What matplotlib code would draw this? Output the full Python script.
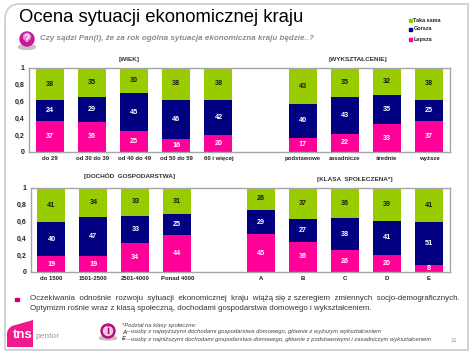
import numpy as np
import matplotlib
matplotlib.use("Agg")
import matplotlib.pyplot as plt
from matplotlib.patches import Circle, Rectangle, PathPatch, Ellipse
from matplotlib.path import Path

plt.rcParams["font.family"] = ["Liberation Sans", "DejaVu Sans"]

# ---- data ----
series = ["Lepsza", "Gorsza", "Taka sama"]
cats_top = ["do 29", "od 30 do 39", "od 40 do 49", "od 50 do 59", "60 i więcej", "",
            "podstawowe", "zasadnicze", "średnie", "wyższe"]
lepsza_top = [37, 36, 25, 16, 20, 0, 17, 22, 33, 37]
gorsza_top = [24, 29, 45, 46, 42, 0, 40, 43, 35, 25]
taka_top = [38, 35, 30, 38, 38, 0, 43, 35, 32, 38]

cats_bot = ["do 1500", "1501-2500", "2501-4000", "Ponad 4000", "", "A", "B", "C", "D", "E"]
lepsza_bot = [19, 19, 34, 44, 0, 45, 36, 26, 20, 8]
gorsza_bot = [40, 47, 33, 25, 0, 29, 27, 38, 41, 51]
taka_bot = [41, 34, 33, 31, 0, 26, 37, 36, 39, 41]

y_ticks = [0, 0.2, 0.4, 0.6, 0.8, 1]
y_labels = ["0", "0,2", "0,4", "0,6", "0,8", "1"]

PINK = "#ff0099"
NAVY = "#000080"
GREEN = "#99cc00"
W, H = 474, 355

fig = plt.figure(figsize=(W / 100, H / 100), dpi=100, facecolor="white")

# overlay in pixel coords for all the slide furniture
bg = fig.add_axes([0, 0, 1, 1], zorder=0)
bg.set_xlim(0, W)
bg.set_ylim(H, 0)
bg.axis("off")


def stacked(box, cats, a, b, c):
    x0, y0, x1, y1 = box
    ax = fig.add_axes([x0 / W, 1 - y1 / H, (x1 - x0) / W, (y1 - y0) / H], zorder=2)
    a, b, c = [np.array(v, dtype=float) for v in (a, b, c)]
    tot = a + b + c
    tot[tot == 0] = 1
    x = np.arange(len(cats))
    bottom = np.zeros(len(cats))
    for vals, col, tc in [(a, PINK, "white"), (b, NAVY, "white"), (c, GREEN, "#1a1a1a")]:
        frac = vals / tot
        ax.bar(x, frac, 0.667, bottom=bottom, color=col, edgecolor="none")
        for i, v in enumerate(vals):
            if v > 0:
                ax.text(i, bottom[i] + frac[i] / 2, f"{int(v)}", color=tc, fontsize=5.2,
                        fontweight="bold", ha="center", va="center")
        bottom += frac
    ax.set_xlim(-0.5, len(cats) - 0.5)
    ax.set_ylim(0, 1)
    ax.set_xticks(x)
    ax.set_xticklabels(cats, fontsize=4.3, fontweight="bold", color="#222222")
    ax.set_yticks(y_ticks)
    ax.set_yticklabels(y_labels, fontsize=5, fontweight="bold", color="#222222")
    ax.tick_params(length=0, pad=3)
    for s in ax.spines.values():
        s.set_color("#a6a6a6")
        s.set_linewidth(1.0)
    return ax


stacked((29, 68, 450, 152), cats_top, lepsza_top, gorsza_top, taka_top)
stacked((30.5, 188, 450, 272), cats_bot, lepsza_bot, gorsza_bot, taka_bot)

# slide frame with rounded top left corner
frame = Path([(5, 350), (5, 20), (5, 4), (20, 4), (468, 4), (468, 350), (5, 350)],
             [Path.MOVETO, Path.LINETO, Path.CURVE3, Path.CURVE3, Path.LINETO, Path.LINETO, Path.LINETO])
bg.add_patch(PathPatch(frame, facecolor="white", edgecolor="#cfcfcf", linewidth=1.3))

# title + question
bg.text(19, 17.5, "Ocena sytuacji ekonomicznej kraju", fontsize=13.3, color="black", va="center")
bg.add_patch(Ellipse((27, 47), 17, 5, color="#c9c0c9", zorder=2))
bg.add_patch(Circle((27, 39), 7, color="#c8189a", zorder=3))
bg.add_patch(Circle((27, 37), 3.5, color="#ee88cc", zorder=3))
bg.text(27, 39.5, "?", color="white", fontsize=7, fontweight="bold", ha="center", va="center", zorder=4)
bg.text(40, 38, "Czy sądzi Pan(i), że za rok ogólna sytuacja ekonomiczna kraju będzie..?",
        fontsize=5.75, style="italic", fontweight="bold", color="#8c8c8c", va="center")

# legend
for yy, name, col in [(20, series[2], GREEN), (29, series[1], NAVY), (39, series[0], PINK)]:
    bg.add_patch(Rectangle((409, yy - 1.5), 3, 3, color=col))
    bg.text(413.5, yy, name, fontsize=4.0, fontweight="bold", color="#222222", va="center")

# group headers
for xx, yy, txt in [(129, 59, "[WIEK]"), (358, 59, "[WYKSZTAŁCENIE]"),
                    (130, 176, "[DOCHÓD  GOSPODARSTWA]"), (355, 180, "[KLASA  SPOŁECZENA*]")]:
    bg.text(xx, yy, txt, fontsize=4.6, fontweight="bold", color="#333333", ha="center", va="center")

# comment
bg.add_patch(Rectangle((15.5, 297.5), 3.5, 3.5, color="#d6006f"))
bg.text(30, 299, "Oczekiwania  odnośnie  rozwoju  sytuacji  ekonomicznej  kraju  wiążą się z szeregiem  zmiennych  socjo-demograficznych.",
        fontsize=5.7, color="#333333", va="center")
bg.text(30, 309, "Optymizm rośnie wraz z klasą społeczną, dochodami gospodarstwa domowego i wykształceniem.",
        fontsize=5.7, color="#333333", va="center")

# logo
logo = Path([(7, 347), (7, 334), (7, 329), (12, 326), (33, 320), (33, 347), (7, 347)],
            [Path.MOVETO, Path.LINETO, Path.CURVE3, Path.CURVE3, Path.LINETO, Path.LINETO, Path.LINETO])
bg.add_patch(PathPatch(logo, facecolor="#f0188c", edgecolor="none"))
bg.text(23, 335.5, "tns", color="white", fontsize=9.5, fontweight="bold", ha="center", va="center")
bg.text(35, 337, "pentor", color="#9a9a9a", fontsize=6, va="center")

# info icon + footnote
bg.add_patch(Ellipse((108, 338), 17, 4, color="#c9c0c9"))
bg.add_patch(Circle((108, 331), 7, color="#b0107a"))
bg.add_patch(Circle((108, 331), 4.5, color="#f3c6e4"))
bg.text(108, 331, "i", color="#a0106f", fontsize=8, fontweight="bold", ha="center", va="center")
bg.text(122, 325, "*Podział na klasy społeczne:", fontsize=4.2, style="italic", color="#444444", va="center")
for yy, letter, rest in [(332, "A", "– osoby z najwyższymi dochodami gospodarstwa domowego, głównie z wyższym wykształceniem"),
                         (339, "E", "– osoby z najniższymi dochodami gospodarstwa domowego, głównie z podstawowymi i zasadniczym wykształceniem")]:
    bg.text(122, yy, letter, fontsize=4.2, style="italic", fontweight="bold", color="#444444", va="center")
    bg.text(126.5, yy, rest, fontsize=4.23, style="italic", color="#444444", va="center")
bg.text(454, 341, "11", fontsize=4.6, color="#999999", ha="center", va="center")

plt.savefig("out.png", dpi=100)
